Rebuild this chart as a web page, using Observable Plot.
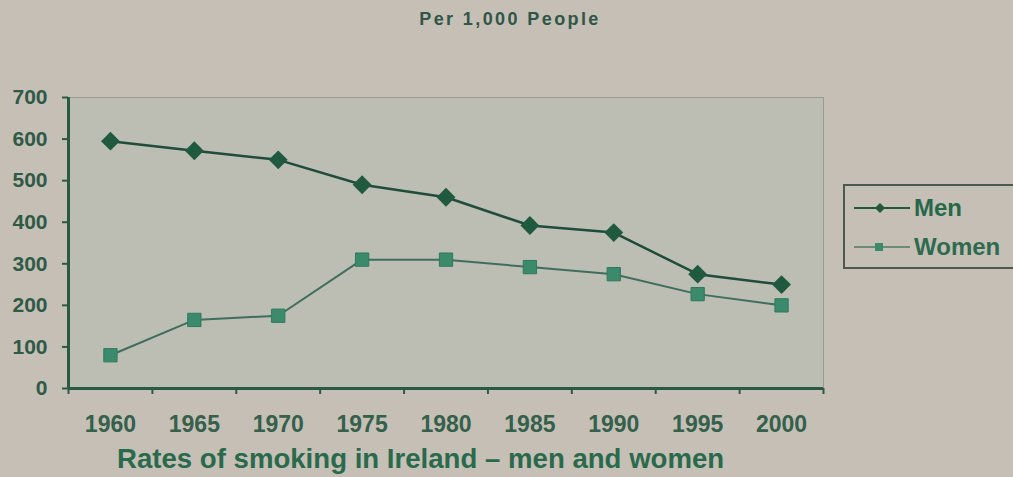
<!DOCTYPE html>
<html>
<head>
<meta charset="utf-8">
<script src="https://cdn.jsdelivr.net/npm/d3@7"></script>
<script src="https://cdn.jsdelivr.net/npm/@observablehq/plot@0.6"></script>
<style>
  html, body { margin: 0; padding: 0; background: #c6bfb6; }
  #wrap { position: relative; width: 1013px; height: 477px; overflow: hidden; background: #c6bfb6;
          font-family: "Liberation Sans", Arial, sans-serif; color: #2a5c44; }
  #title { position: absolute; left: 0; width: 1020px; top: 9px; text-align: center;
           font-size: 18px; font-weight: bold; letter-spacing: 2.4px; color: #2f5646; }
  #caption { position: absolute; left: 117px; top: 443px; font-size: 27.6px; font-weight: bold; color: #2a6a4c; white-space: nowrap; }
  #legend { position: absolute; left: 843px; top: 184px; width: 190px; height: 85px;
            border: 2px solid #4a5a50; box-sizing: border-box; }
  .li { position: absolute; left: 7px; font-size: 24px; font-weight: bold; display: flex; align-items: center; }
  .li span { margin-left: 4px; }
</style>
</head>
<body>
<div id="wrap">
  <div id="title">Per 1,000 People</div>
  <div id="chart"></div>
  <div id="legend">
    <div class="li" style="top:8px"><svg width="58" height="20"><line x1="2" y1="10" x2="58" y2="10" stroke="#1f5a3e" stroke-width="2"/><path d="M28,5 L33,10 L28,15 L23,10 Z" fill="#1f5a3e"/></svg><span style="color:#25684a">Men</span></div>
    <div class="li" style="top:47px"><svg width="58" height="20"><line x1="2" y1="10" x2="58" y2="10" stroke="#4a7a66" stroke-width="1.5"/><rect x="23" y="6" width="8" height="8" fill="#3b8a6c"/></svg><span style="color:#2f6a50">Women</span></div>
  </div>
  <div id="caption">Rates of smoking in Ireland – men and women</div>
</div>
<script>
const years = [1960, 1965, 1970, 1975, 1980, 1985, 1990, 1995, 2000];
const men   = [595, 572, 550, 490, 460, 392, 375, 275, 250];
const women = [80, 165, 175, 310, 310, 292, 275, 227, 200];
const yTicks = [0, 100, 200, 300, 400, 500, 600, 700];

const data = [
  ...years.map((y, i) => ({year: y, value: men[i], series: "Men"})),
  ...years.map((y, i) => ({year: y, value: women[i], series: "Women"}))
];
const step = years[1] - years[0];
const bounds = [...years.map(y => y - step / 2), years[years.length - 1] + step / 2];
const menData = data.filter(d => d.series === "Men");
const womenData = data.filter(d => d.series === "Women");

const chart = Plot.plot({
  width: 1013,
  height: 477,
  marginLeft: 68,
  marginRight: 190,
  marginTop: 97,
  marginBottom: 89,
  style: { background: "transparent", fontFamily: "Liberation Sans, Arial, sans-serif" },
  x: { domain: [bounds[0], bounds[bounds.length - 1]] },
  y: { domain: [0, 700] },
  marks: [
    Plot.frame({ fill: "#bcbdb3", stroke: "#9a9a92", strokeWidth: 1 }),
    Plot.axisY({ ticks: yTicks, tickSize: 6, tickPadding: 15, stroke: "#2a5a44", strokeWidth: 2,
                 fill: "#2e5a46", fontSize: 21, fontWeight: "bold", label: null }),
    Plot.axisX({ ticks: years, tickSize: 0, tickPadding: 27, tickFormat: d => String(d),
                 fill: "#34604c", fontSize: 23, fontWeight: "bold", label: null }),
    Plot.axisX({ ticks: bounds, tickSize: 6, tickFormat: () => "", stroke: "#2a5a44", strokeWidth: 2, label: null }),
    Plot.ruleY([0], { stroke: "#2a5a44", strokeWidth: 3 }),
    Plot.ruleX([bounds[0]], { stroke: "#2a5a44", strokeWidth: 3 }),
    Plot.line(womenData, { x: "year", y: "value", stroke: "#3f6e5c", strokeWidth: 2 }),
    Plot.line(menData, { x: "year", y: "value", stroke: "#1f4d3a", strokeWidth: 2.5 }),
    Plot.dot(womenData, { x: "year", y: "value", symbol: "square", r: 7.5, fill: "#3b8a6c", stroke: "#2f7a5e", strokeWidth: 1 }),
    Plot.dot(menData, { x: "year", y: "value", symbol: "diamond2", r: 8.5, fill: "#1f5a3e" })
  ]
});
document.getElementById("chart").appendChild(chart);
</script>
</body>
</html>
